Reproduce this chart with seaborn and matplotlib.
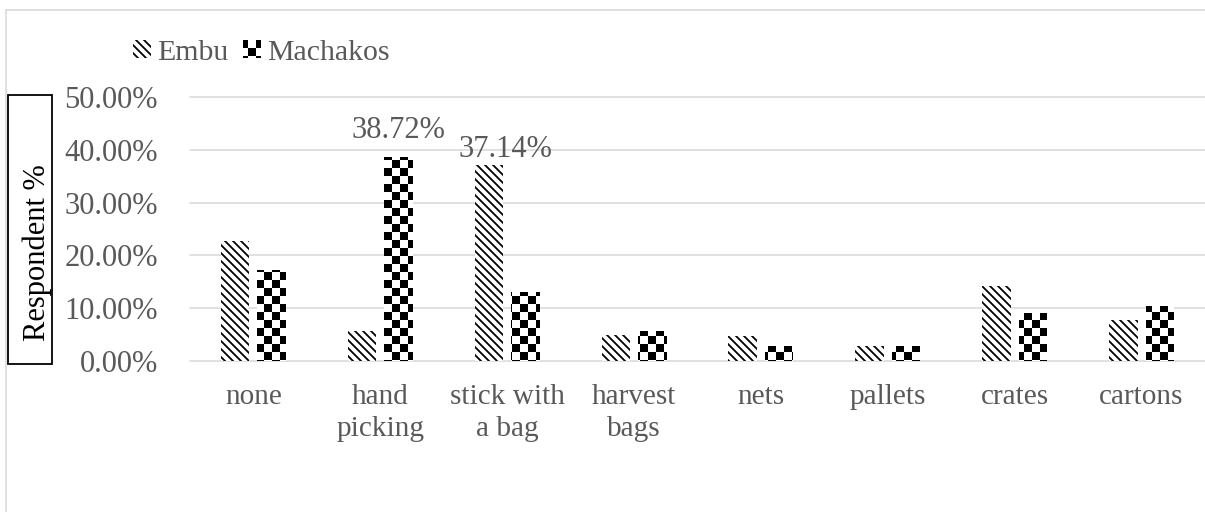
import warnings
import numpy as np
import pandas as pd
import matplotlib
matplotlib.use("Agg")
import matplotlib.pyplot as plt
import matplotlib.hatch as mhatch
from matplotlib.path import Path
from matplotlib.patches import Patch, Rectangle
from matplotlib.lines import Line2D
import seaborn as sns

warnings.filterwarnings("ignore")

# ---- data -------------------------------------------------------------
methods = ["none", "hand\npicking", "stick with\na bag", "harvest\nbags",
           "nets", "pallets", "crates", "cartons"]
counties = ["Embu", "Machakos"]
embu = [22.8, 5.7, 37.14, 4.9, 4.7, 2.9, 14.2, 7.7]
machakos = [17.2, 38.72, 13.1, 5.7, 2.9, 2.9, 9.1, 10.4]
y_ticks = [0, 10, 20, 30, 40, 50]
y_title = "Respondent %"

# labelled bars: (county, method index)
labelled = [("Machakos", 1), ("Embu", 2)]

# 96 dpi makes the hatch tile 96 px: 12 checker cells of 8 px, stripes every 4 px
DPI = 96
W, H = 1205, 512


def pt(px):
    """pixels -> points at the figure dpi"""
    return px * 72 / DPI


STRIPE_LW_PX = 1.8
PER_PATCH_HATCH_LW = hasattr(Patch, "set_hatch_linewidth")
CHECKER_LW_PX = 0.0 if PER_PATCH_HATCH_LW else STRIPE_LW_PX


# ---- checkerboard hatch (filled squares, '#') -------------------------
class CheckerHatch(mhatch.HatchPatternBase):
    def __init__(self, hatch, density):
        self.cells = hatch.count("#") * 12
        self.num_vertices = (self.cells * self.cells // 2) * 5

    def set_vertices_and_codes(self, vertices, codes):
        step = 1.0 / self.cells
        # any hatch stroke widens each square by half its width per side
        inset = CHECKER_LW_PX / 2 / DPI
        k = 0
        for i in range(self.cells):
            for j in range(self.cells):
                if (i + j) % 2:
                    continue
                x0, y0 = i * step + inset, j * step + inset
                x1, y1 = (i + 1) * step - inset, (j + 1) * step - inset
                vertices[k:k + 5] = [(x0, y0), (x1, y0), (x1, y1), (x0, y1), (x0, y0)]
                codes[k:k + 5] = [Path.MOVETO, Path.LINETO, Path.LINETO,
                                  Path.LINETO, Path.CLOSEPOLY]
                k += 5


mhatch._hatch_types.append(CheckerHatch)

hatches = {"Embu": "\\\\\\\\", "Machakos": "#"}
hatch_lw = {"Embu": pt(STRIPE_LW_PX), "Machakos": pt(CHECKER_LW_PX)}


def style_patch(p, county):
    p.set_hatch(hatches[county])
    p.set_linewidth(0)
    if PER_PATCH_HATCH_LW:
        p.set_hatch_linewidth(hatch_lw[county])


# ---- style ------------------------------------------------------------
sns.set_theme(style="white")
plt.rcParams["font.family"] = ["Liberation Serif", "DejaVu Serif"]
plt.rcParams["hatch.color"] = "black"
plt.rcParams["hatch.linewidth"] = pt(STRIPE_LW_PX)
grid_col = "#d9d9d9"
text_col = "#595959"

df = pd.DataFrame({
    "method": methods * 2,
    "county": ["Embu"] * len(methods) + ["Machakos"] * len(methods),
    "pct": embu + machakos,
})

fig = plt.figure(figsize=(W / DPI, H / DPI), dpi=DPI)
ax = fig.add_axes([190 / W, 1 - 361 / H, 1 - 190 / W, (361 - 97) / H])

sns.barplot(data=df, x="method", y="pct", hue="county", hue_order=counties,
            palette=["white", "white"], width=0.575, gap=0.22,
            edgecolor="black", linewidth=0, legend=False, ax=ax)

for cont, county in zip(ax.containers, counties):
    for bar in cont:
        style_patch(bar, county)

# axes styling
ax.set_ylim(0, 50)
ax.set_xlim(-0.5, len(methods) - 0.5)
ax.set_yticks(y_ticks)
ax.set_yticklabels([f"{v:.2f}%" for v in y_ticks])
ax.yaxis.grid(True, color=grid_col, linewidth=pt(1.6))
for gl in ax.get_ygridlines():
    gl.set_clip_on(False)
ax.set_axisbelow(True)
for s in ax.spines.values():
    s.set_visible(False)
ax.tick_params(axis="y", length=0, pad=pt(32), labelsize=pt(30.5), labelcolor=text_col)
ax.tick_params(axis="x", length=0, pad=pt(23.5), labelsize=pt(29.2), labelcolor=text_col)
for t in ax.get_xticklabels():
    t.set_linespacing(1.3)
    t.set_verticalalignment("top")
ax.set_xlabel("")
ax.set_ylabel("")

# value labels
offsets = {("Machakos", 1): (0, pt(19)), ("Embu", 2): (pt(16), pt(7.5))}
for county, idx in labelled:
    ci = counties.index(county)
    bar = ax.containers[ci][idx]
    val = (embu if county == "Embu" else machakos)[idx]
    ax.annotate(f"{val:.2f}%", xy=(bar.get_x() + bar.get_width() / 2, val),
                xytext=offsets[(county, idx)], textcoords="offset points",
                ha="center", va="baseline", fontsize=pt(30.5), color=text_col,
                annotation_clip=False)

# legend
handles = []
for c in counties:
    h = Patch(facecolor="white", edgecolor="black", label=c)
    style_patch(h, c)
    handles.append(h)
leg = fig.legend(handles=handles, loc="center left", ncol=2,
                 bbox_to_anchor=(133 / W, 1 - 53 / H), frameon=False,
                 fontsize=pt(29.9), labelcolor=text_col, handlelength=0.6,
                 handleheight=0.55, handletextpad=0.2, columnspacing=0.5,
                 borderpad=0, borderaxespad=0)
for lh, c in zip(leg.legend_handles, counties):
    style_patch(lh, c)

# boxed y-axis title
fig.add_artist(Rectangle((8 / W, 1 - 364 / H), 44 / W, (364 - 95) / H,
                         transform=fig.transFigure, facecolor="none",
                         edgecolor="black", linewidth=pt(1.8)))
fig.text(37 / W, 1 - 253 / H, y_title, rotation=90, ha="center", va="center",
         fontsize=pt(30.5), color="black")

# chart frame
fig.add_artist(Line2D([6 / W, 6 / W], [0, 1 - 10 / H], transform=fig.transFigure,
                      color=grid_col, linewidth=pt(1.6)))
fig.add_artist(Line2D([6 / W, 1], [1 - 10 / H, 1 - 10 / H], transform=fig.transFigure,
                      color=grid_col, linewidth=pt(1.6)))

fig.savefig("out.png", dpi=DPI, facecolor="white")
